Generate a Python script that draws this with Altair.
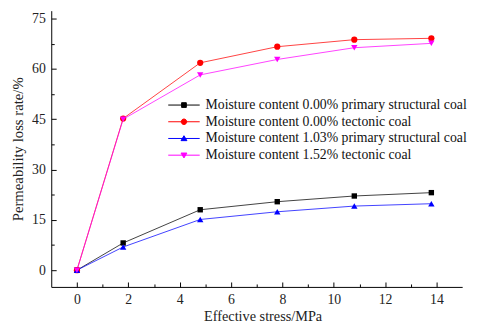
import altair as alt
import pandas as pd

stress = [0, 1.8, 4.8, 7.8, 10.8, 13.8]
series_names = [
    "Moisture content 0.00% primary structural coal",
    "Moisture content 0.00% tectonic coal",
    "Moisture content 1.03% primary structural coal",
    "Moisture content 1.52% tectonic coal",
]
loss_000_primary = [0, 8.1, 18.0, 20.4, 22.1, 23.1]
loss_000_tectonic = [0, 45.2, 61.8, 66.6, 68.7, 69.1]
loss_103_primary = [0, 6.9, 15.1, 17.4, 19.1, 19.8]
loss_152_tectonic = [0, 45.0, 58.2, 62.8, 66.3, 67.6]

x_major_ticks = [0, 2, 4, 6, 8, 10, 12, 14]
x_minor_ticks = [1, 3, 5, 7, 9, 11, 13]
y_major_ticks = [0, 15, 30, 45, 60, 75]
y_minor_ticks = [7.5, 22.5, 37.5, 52.5, 67.5]

colors = ["#000000", "#ff0000", "#0000ff", "#ff00ff"]
shapes = ["square", "circle", "triangle-up", "triangle-down"]
legend_paths = [
    "M-4,0H4M-0.6,-0.6H0.6V0.6H-0.6Z",
    "M-4,0H4M0.7,0A0.7,0.7,0,1,1,-0.7,0A0.7,0.7,0,1,1,0.7,0Z",
    "M-4,0H4M0,-0.7L0.75,0.55H-0.75Z",
    "M-4,0H4M0,0.7L0.75,-0.55H-0.75Z",
]

all_vals = [loss_000_primary, loss_000_tectonic, loss_103_primary, loss_152_tectonic]
rows = []
for name, vals in zip(series_names, all_vals):
    for xv, yv in zip(stress, vals):
        rows.append({"series": name, "x": xv, "y": yv})
df = pd.DataFrame(rows)

FONT = "Liberation Serif"
W, H = 418, 281
xs = alt.Scale(domain=[-1, 15], nice=False, zero=False)
ys = alt.Scale(domain=[-5, 77.34], nice=False, zero=False)

common = dict(grid=False, labelFont=FONT, titleFont=FONT, labelColor="#222", titleColor="#222",
              titleFontWeight="normal", domainColor="#000", tickColor="#000")

x_lab = alt.X("x:Q", scale=xs, axis=alt.Axis(
    orient="bottom", values=x_major_ticks, title="Effective stress/MPa", ticks=False,
    labelPadding=6, titlePadding=3, titleX=215, labelFontSize=14, titleFontSize=14.5, **common))
y_lab = alt.Y("y:Q", scale=ys, axis=alt.Axis(
    orient="left", values=y_major_ticks, title="Permeability loss rate/%", ticks=False,
    labelPadding=6, titlePadding=6, labelFontSize=14, titleFontSize=15, **common))

def tick_axis(orient, vals, size, offset):
    return alt.Axis(orient=orient, values=vals, title=None, labels=False, domain=False,
                    grid=False, tickSize=size, tickColor="#000", offset=offset)

lines = alt.Chart(df).mark_line(strokeWidth=1, opacity=0.75).encode(
    x=x_lab, y=y_lab,
    color=alt.Color("series:N", scale=alt.Scale(domain=series_names, range=colors), legend=None),
    detail="series:N",
)

points = []
for i, (name, c, s) in enumerate(zip(series_names, colors, shapes)):
    size = 30 if s == "square" else (40 if s == "circle" else 42)
    if i == 0:
        xe = alt.X("x:Q", scale=xs, axis=tick_axis("top", x_major_ticks, 5, -H))
        ye = alt.Y("y:Q", scale=ys, axis=tick_axis("right", y_major_ticks, 5, -W))
    elif i == 1:
        xe = alt.X("x:Q", scale=xs, axis=tick_axis("top", x_minor_ticks, 3, -H))
        ye = alt.Y("y:Q", scale=ys, axis=tick_axis("right", y_minor_ticks, 3, -W))
    else:
        xe = alt.X("x:Q", scale=xs, axis=None)
        ye = alt.Y("y:Q", scale=ys, axis=None)
    points.append(
        alt.Chart(df).transform_filter(alt.datum.series == name)
        .mark_point(filled=True, opacity=1, shape=s, color=c, size=size)
        .encode(x=xe, y=ye)
    )

leg = alt.Legend(
    orient="none", legendX=128, legendY=89, title=None, labelFont=FONT, labelFontSize=14,
    labelColor="#111", symbolSize=64, labelOffset=15, rowPadding=3, padding=0,
    symbolStrokeWidth=1, symbolOpacity=1, labelLimit=400,
)
legend_layer = alt.Chart(df).mark_point(filled=True, opacity=0, strokeWidth=1).encode(
    x=alt.X("x:Q", scale=xs, axis=None),
    y=alt.Y("y:Q", scale=ys, axis=None),
    fill=alt.Fill("series:N", scale=alt.Scale(domain=series_names, range=colors), legend=leg),
    stroke=alt.Stroke("series:N", scale=alt.Scale(domain=series_names, range=colors), legend=leg),
    shape=alt.Shape("series:N", scale=alt.Scale(domain=series_names, range=legend_paths), legend=leg),
)

chart = alt.layer(legend_layer, lines, *points).resolve_axis(
    x="independent", y="independent"
).properties(
    width=W, height=H,
    padding={"left": 44, "top": 0, "right": 10, "bottom": 35},
    autosize=alt.AutoSizeParams(type="none"),
    background="white",
).configure_view(strokeWidth=0)

chart.save("out.html", embed_options={"renderer": "svg", "actions": False})
